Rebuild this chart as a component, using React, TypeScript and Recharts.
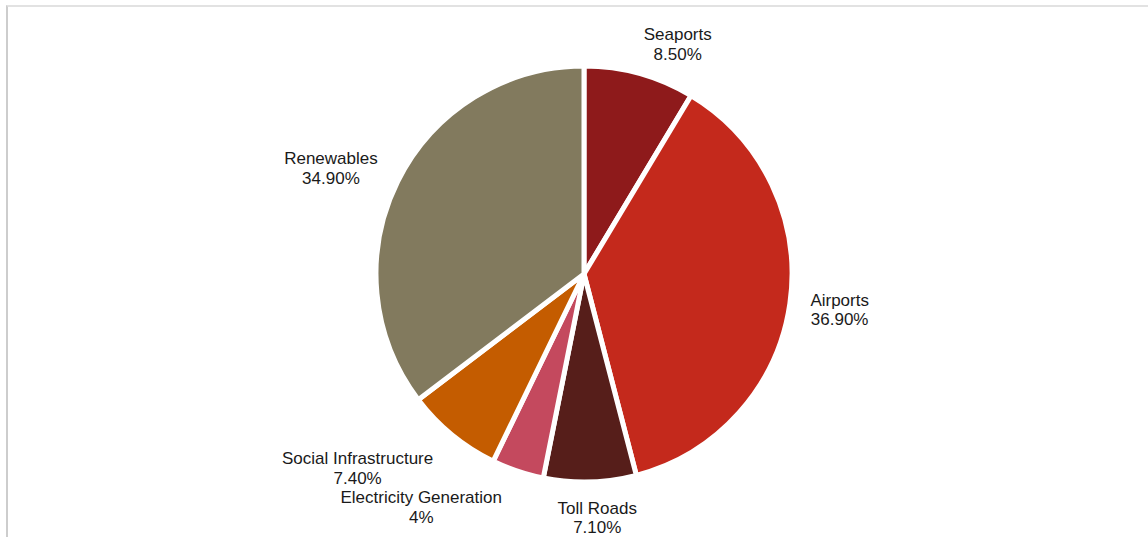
import { PieChart, Pie, Cell } from 'recharts';

const sectors = ['Seaports', 'Airports', 'Toll Roads', 'Electricity Generation', 'Social Infrastructure', 'Renewables'];
const shares = [8.5, 36.9, 7.1, 4, 7.4, 34.9];
const shareLabels = ['8.50%', '36.90%', '7.10%', '4%', '7.40%', '34.90%'];
const sliceColors = ['#8E1A1B', '#C4291C', '#561E1A', '#C4495E', '#C45C00', '#827A5E'];

// label distance from centre and angle nudge (deg, clockwise) - mimics excel best fit
const labelSpots: Record<string, { r: number; a: number }> = {
  'Seaports': { r: 243, a: 7.2 },
  'Airports': { r: 259, a: 1 },
  'Toll Roads': { r: 250, a: -1.4 },
  'Electricity Generation': { r: 289, a: 15.7 },
  'Social Infrastructure': { r: 302, a: 9.2 },
  'Renewables': { r: 272, a: -4.9 },
};

const pieData = sectors.map((name, i) => ({ name, value: shares[i], pct: shareLabels[i] }));

const RAD = Math.PI / 180;

function SliceLabel(props: any) {
  const { cx, cy, midAngle, name, index } = props;
  const spot = labelSpots[name] ?? { r: 250, a: 0 };
  const ang = (midAngle - spot.a) * RAD;
  const x = cx + spot.r * Math.cos(-ang);
  const y = cy + spot.r * Math.sin(-ang);
  return (
    <text
      x={x}
      y={y}
      textAnchor="middle"
      fill="#1a1a1a"
      fontSize={17}
      fontFamily="'Liberation Sans', Arial, sans-serif"
    >
      <tspan x={x} y={y - 9.75}>{name}</tspan>
      <tspan x={x} y={y + 9.75}>{shareLabels[index]}</tspan>
    </text>
  );
}

export default function App() {
  return (
    <div style={{ position: 'absolute', left: 0, top: 0, width: 1148, height: 537, background: '#fff' }}>
      <div
        style={{
          position: 'absolute',
          left: 6,
          top: 5,
          right: 0,
          bottom: 0,
          borderLeft: '2px solid #cdcdcd',
          borderTop: '2px solid #e2e2e2',
        }}
      />
      <PieChart
        width={1148}
        height={537}
        margin={{ top: 0, right: 0, bottom: 0, left: 0 }}
        style={{ position: 'absolute', left: 0, top: 0 }}
      >
        <Pie
          data={pieData}
          dataKey="value"
          nameKey="name"
          cx={584}
          cy={274}
          outerRadius={208}
          startAngle={90}
          endAngle={-270}
          stroke="#ffffff"
          strokeWidth={5}
          label={SliceLabel}
          labelLine={false}
          isAnimationActive={false}
        >
          {pieData.map((d, i) => (
            <Cell key={d.name} fill={sliceColors[i]} />
          ))}
        </Pie>
      </PieChart>
    </div>
  );
}
